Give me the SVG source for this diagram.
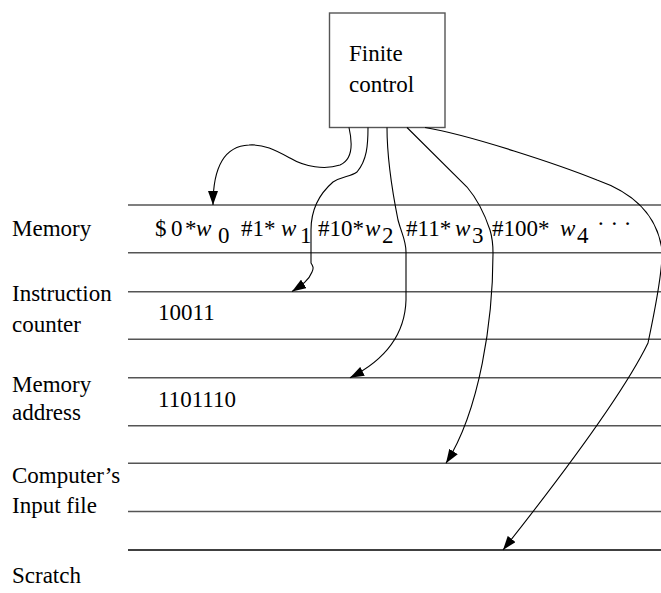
<svg xmlns="http://www.w3.org/2000/svg" width="661" height="593" viewBox="0 0 661 593">
<style>
text{font-family:"Liberation Serif","Times New Roman",serif;font-size:23px;fill:#000}
.it{font-style:italic}
.rule{stroke:#555;stroke-width:1.4;fill:none}
.conn{stroke:#000;stroke-width:1.1;fill:none}
</style>
<defs>
<marker id="ah" viewBox="0 0 14 10" refX="14" refY="5" markerWidth="14" markerHeight="10" markerUnits="userSpaceOnUse" orient="auto">
<path d="M0,0 L14,5 L0,10 Z" fill="#000"/>
</marker>
</defs>
<rect width="661" height="593" fill="#fff"/>

<g id="tapes">
<line class="rule" x1="128" y1="205" x2="661" y2="205"/>
<line class="rule" x1="128" y1="252.7" x2="661" y2="252.7"/>
<line class="rule" x1="128" y1="291.7" x2="661" y2="291.7"/>
<line class="rule" x1="128" y1="339.3" x2="661" y2="339.3"/>
<line class="rule" x1="128" y1="377.7" x2="661" y2="377.7"/>
<line class="rule" x1="128" y1="425.7" x2="661" y2="425.7"/>
<line class="rule" x1="128" y1="463.3" x2="661" y2="463.3"/>
<line class="rule" x1="128" y1="511.5" x2="661" y2="511.5"/>
<line class="rule" x1="128" y1="550" x2="661" y2="550" style="stroke:#000"/>
</g>

<g id="finite-control">
<rect x="329.5" y="13" width="115.5" height="114.5" fill="#fff" stroke="#555" stroke-width="1.4"/>
<text x="349" y="61">Finite</text>
<text x="349" y="92">control</text>
</g>

<g id="labels">
<text x="12" y="236">Memory</text>
<text x="12" y="301">Instruction</text>
<text x="12" y="332">counter</text>
<text x="12" y="392">Memory</text>
<text x="12" y="420">address</text>
<text x="12" y="483">Computer’s</text>
<text x="12" y="513">Input file</text>
<text x="12" y="583">Scratch</text>
</g>

<g id="memory-contents">
<text x="155" y="236">$</text>
<text x="171" y="236">0</text>
<text x="185" y="236">*</text>
<text x="196" y="236" class="it">w</text>
<text x="218" y="243">0</text>
<text x="241" y="236">#1*</text>
<text x="281" y="236" class="it">w</text>
<text x="300" y="243">1</text>
<text x="318" y="236">#10*</text>
<text x="365" y="236" class="it">w</text>
<text x="382" y="243">2</text>
<text x="406" y="236">#11*</text>
<text x="455" y="236" class="it">w</text>
<text x="472" y="243">3</text>
<text x="492" y="236">#100*</text>
<text x="560" y="236" class="it">w</text>
<text x="577" y="243">4</text>
<text x="597" y="231">· · ·</text>
</g>

<g id="register-contents">
<text x="158" y="320">10011</text>
<text x="158" y="407">1101110</text>
</g>

<g id="connectors">
<path class="conn" marker-end="url(#ah)" d="M349,127.5 C353,145 352,160 340,165 C325,170 305,167 290,158 C275,150 264,144 249,145 C226,146 213,165 213,205"/>
<path class="conn" marker-end="url(#ah)" d="M368,127.5 C368,145 367,160 357,172 C350,177 343,176 333,182 C318,195 311,210 311,230 L311,263 C313,266 314,268 312,272 C309,280 302,285 292,291.5"/>
<path class="conn" marker-end="url(#ah)" d="M387,127.5 C387,160 392,190 398,220 C402,235 406,240 406,252 L406,300 C405,335 385,360 350,377.7"/>
<path class="conn" marker-end="url(#ah)" d="M407,127.5 L467,187 C478,200 485,215 490,230 C493,240 493,248 493,253 C493,320 480,410 446,463.3"/>
<path class="conn" marker-end="url(#ah)" d="M425,127.5 C470,135 560,165 597,180 C640,195 658,220 662,250 C663,270 655,310 648,343 C630,380 590,440 503,550"/>
</g>
</svg>
